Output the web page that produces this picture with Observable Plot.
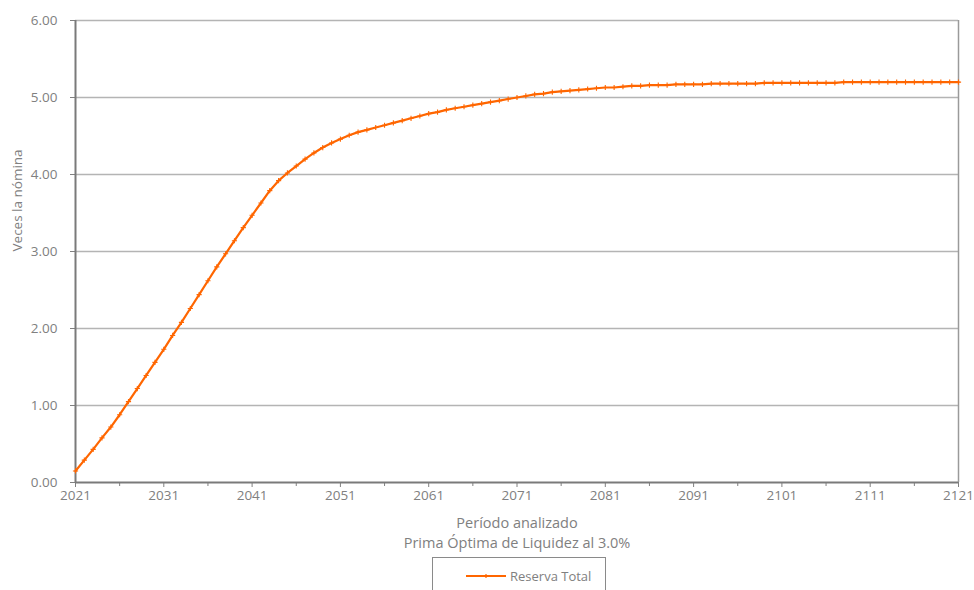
<!DOCTYPE html>
<html>
<head>
<meta charset="utf-8">
<script src="https://cdn.jsdelivr.net/npm/d3@7"></script>
<script src="https://cdn.jsdelivr.net/npm/@observablehq/plot@0.6"></script>
<style>
  body { margin: 0; background: #fff; font-family: "Open Sans", sans-serif; }
  #legend {
    position: absolute; left: 432px; top: 557px; width: 174px; height: 40px;
    border: 1px solid #8a8a8a; box-sizing: border-box; background: #fff;
    display: flex; align-items: flex-start; padding-top: 9px; padding-left: 32px;
    font-size: 13px; color: #808080;
  }
  #legend svg { margin-right: 3px; margin-top: 3px; }
</style>
</head>
<body>
<div id="chart"></div>
<div id="legend"><svg width="42" height="12"><line x1="1" x2="41" y1="6" y2="6" stroke="#FF6600" stroke-width="2"/><line x1="21" x2="21" y1="4" y2="8" stroke="#FF6600" stroke-width="1.2"/></svg><span>Reserva Total</span></div>
<script>
const seriesName = "Reserva Total";
const startYear = 2021;
const reservaTotal = [
  0.15, 0.29, 0.43, 0.58, 0.72, 0.88, 1.05, 1.22, 1.39, 1.56,
  1.73, 1.91, 2.08, 2.26, 2.44, 2.62, 2.80, 2.97, 3.14, 3.31,
  3.47, 3.63, 3.79, 3.92, 4.02, 4.11, 4.20, 4.28, 4.35, 4.41,
  4.46, 4.51, 4.55, 4.58, 4.61, 4.64, 4.67, 4.70, 4.73, 4.76,
  4.79, 4.81, 4.84, 4.86, 4.88, 4.90, 4.92, 4.94, 4.96, 4.98,
  5.00, 5.02, 5.04, 5.05, 5.07, 5.08, 5.09, 5.10, 5.11, 5.12,
  5.13, 5.13, 5.14, 5.15, 5.15, 5.16, 5.16, 5.16, 5.17, 5.17,
  5.17, 5.17, 5.18, 5.18, 5.18, 5.18, 5.18, 5.18, 5.19, 5.19,
  5.19, 5.19, 5.19, 5.19, 5.19, 5.19, 5.19, 5.20, 5.20, 5.20,
  5.20, 5.20, 5.20, 5.20, 5.20, 5.20, 5.20, 5.20, 5.20, 5.20,
  5.20
];
const xLabelTicks = [2021, 2031, 2041, 2051, 2061, 2071, 2081, 2091, 2101, 2111, 2121];
const xMinorTicks = [2026, 2036, 2046, 2056, 2066, 2076, 2086, 2096, 2106, 2116];
const yTicks = [0, 1, 2, 3, 4, 5, 6];
const yTitle = "Veces la nómina";
const xTitle = "Período analizado\nPrima Óptima de Liquidez al 3.0%";

const data = reservaTotal.map((v, i) => ({year: startYear + i, value: v}));
const orange = "#FF6600";
const textGray = "#808080";

const chart = Plot.plot({
  width: 974,
  height: 552,
  marginLeft: 75,
  marginRight: 16,
  marginTop: 20,
  marginBottom: 70,
  style: {fontFamily: "'Open Sans', sans-serif", fontSize: "13.5px", color: textGray, background: "#fff"},
  x: {domain: [2021, 2121], label: null},
  y: {domain: [0, 6], label: null},
  marks: [
    Plot.ruleY(yTicks.filter(d => d > 0), {stroke: "#b4b4b4", strokeWidth: 1.5}),
    Plot.ruleX([2121], {stroke: "#9a9a9a", strokeWidth: 1.5}),
    Plot.axisX({ticks: xMinorTicks, tickSize: 4, tickFormat: () => "", stroke: "#808080"}),
    Plot.axisX({ticks: xLabelTicks, tickSize: 5, tickPadding: 3, tickFormat: d => String(d), stroke: "#808080", fill: textGray, label: null}),
    Plot.axisY({ticks: yTicks, tickSize: 5, tickPadding: 13, tickFormat: d3.format(".2f"), stroke: "#808080", fill: textGray, label: null}),
    Plot.ruleX([2021], {stroke: "#7a7a7a", strokeWidth: 2}),
    Plot.ruleY([0], {stroke: "#7a7a7a", strokeWidth: 2}),
    Plot.line(data, {x: "year", y: "value", stroke: orange, strokeWidth: 2.2}),
    Plot.dot(data, {x: "year", y: "value", symbol: "plus", r: 1.8, stroke: orange, strokeWidth: 1.1}),
    Plot.text([yTitle], {frameAnchor: "left", dx: -58, rotate: -90, fill: textGray, fontSize: 13.5}),
    Plot.text([xTitle], {frameAnchor: "bottom", lineAnchor: "top", dy: 31, lineHeight: 1.4, fill: textGray, fontSize: 14.5})
  ]
});
document.getElementById("chart").appendChild(chart);
</script>
</body>
</html>
